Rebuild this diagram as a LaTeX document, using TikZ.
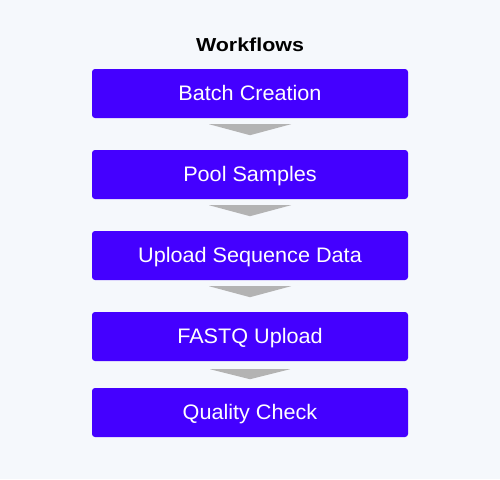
\documentclass[tikz,border=0pt]{standalone}
\usepackage{fontspec}
\setmainfont{Liberation Sans}
\newfontfamily\titlefont[FakeStretch=1.14]{Liberation Sans}
\newfontfamily\labelfont[FakeStretch=1.03]{Liberation Sans}
\usetikzlibrary{calc}
\definecolor{bgc}{HTML}{F5F8FC}
\definecolor{boxc}{HTML}{4400FF}
\definecolor{arrc}{HTML}{B3B3B3}
\tikzset{
  stepbox/.style={fill=boxc, rounded corners=3pt, minimum width=316pt, minimum height=49pt, inner sep=0pt, text height=15pt, text depth=1.6pt, text=white, font=\labelfont\fontsize{21pt}{24pt}\selectfont},
  chevron/.style={fill=arrc, draw=none}
}
\newcommand{\downarr}[1]{%
  \fill[chevron] ($(#1.south)+(-41pt,-6pt)$) -- ($(#1.south)+(41pt,-6pt)$) -- ($(#1.south)+(0pt,-17pt)$) -- cycle;}
\begin{document}
\begin{tikzpicture}[x=1pt,y=-1pt]
\fill[bgc] (0,0) rectangle (500,479);
\useasboundingbox (0,0) rectangle (500,479);
\node[font=\titlefont\fontsize{18.8pt}{22pt}\selectfont\bfseries, anchor=base, inner sep=0pt] (title) at (250,51) {Workflows};
\node[stepbox] (b1) at (250,93.5) {Batch Creation};
\node[stepbox] (b2) at (250,174.5) {Pool Samples};
\node[stepbox] (b3) at (250,255.5) {Upload Sequence Data};
\node[stepbox] (b4) at (250,336.5) {FASTQ Upload};
\node[stepbox] (b5) at (250,412.5) {Quality Check};
\downarr{b1}
\downarr{b2}
\downarr{b3}
\fill[chevron] ($(b4.south)+(-40pt,-8pt)$) -- ($(b4.south)+(40pt,-8pt)$) -- ($(b4.south)+(0pt,-18pt)$) -- cycle;
\end{tikzpicture}
\end{document}
